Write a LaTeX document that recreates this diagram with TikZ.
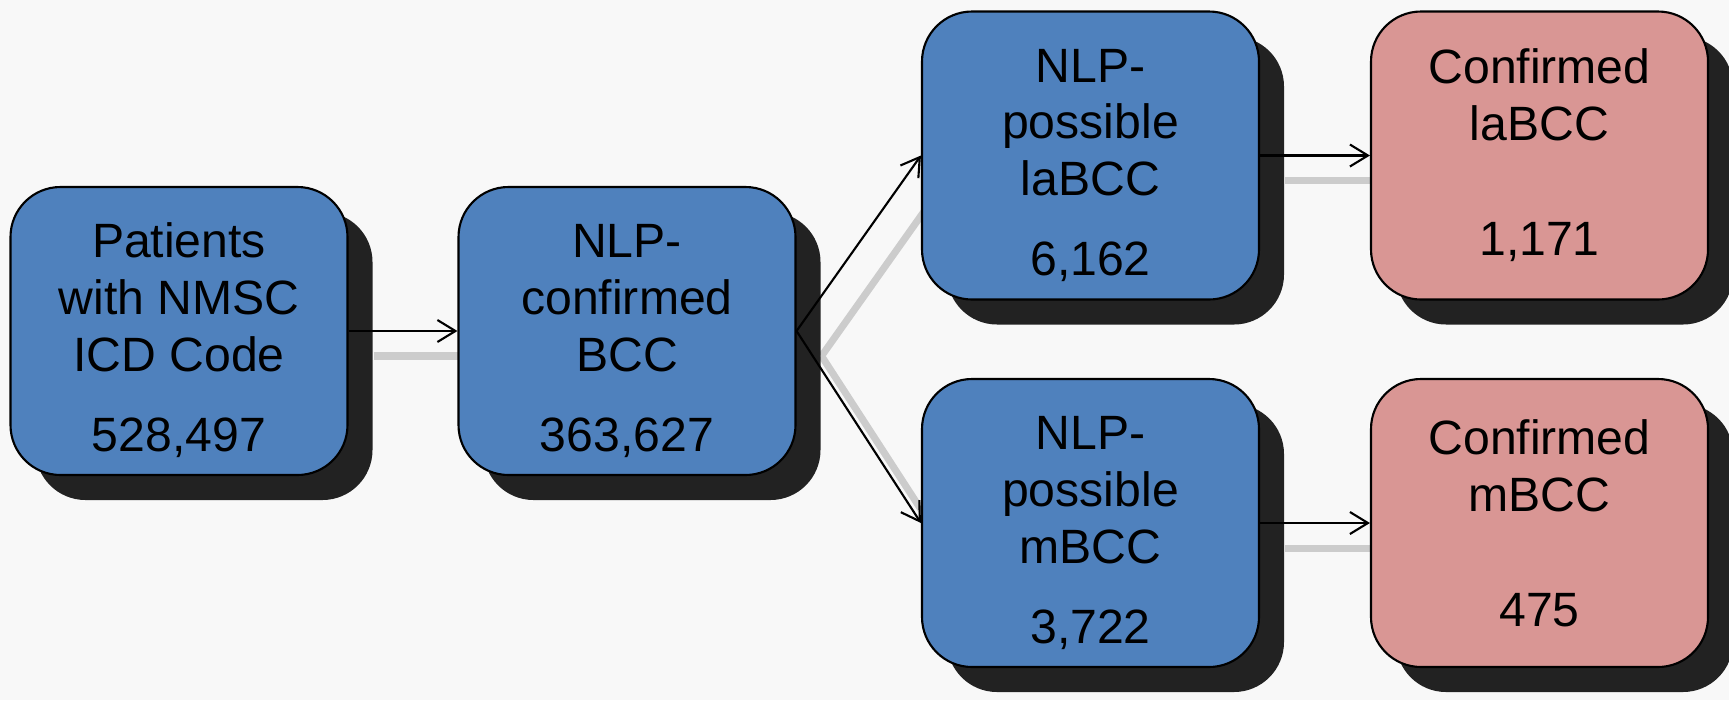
\documentclass[tikz,border=0pt]{standalone}
\usepackage{xcolor}
\usepackage{fontspec}
\setmainfont{Liberation Sans}
\usepackage{tikz}
\usetikzlibrary{arrows.meta,shadows}
\definecolor{boxblue}{HTML}{4F81BD}
\definecolor{boxpink}{HTML}{D99694}
\definecolor{bgcol}{HTML}{F8F8F8}
\definecolor{shadecol}{HTML}{222222}
\pgfdeclarelayer{back}
\pgfdeclarelayer{shade}
\pgfsetlayers{back,shade,main}
\newcommand{\topgap}{\rule{0pt}{0.53cm}}

\begin{document}
\begin{tikzpicture}[x=1cm,y=1cm,line join=round,
	stage/.style={draw=black,line width=0.6pt,rounded corners=0.5cm,minimum width=3.37cm,minimum height=2.88cm,inner sep=0pt,align=center,font=\fontsize{13.7}{16.2}\selectfont,drop shadow={shadow xshift=0.25cm,shadow yshift=-0.25cm,fill=shadecol,opacity=1}},
	bluebox/.style={stage,fill=boxblue},
	pinkbox/.style={stage,fill=boxpink},
	link/.style={-{Straight Barb[length=0.18cm,width=0.22cm]},line width=0.6pt},
	linkshade/.style={line width=2pt,color=black!20}]
	\useasboundingbox (0,0) rectangle (17.29,7);
	\begin{pgfonlayer}{back}
	\fill[bgcol] (0,0) rectangle (17.29,7);
	\end{pgfonlayer}
	\node[bluebox] (icd) at (1.79,3.69) {\topgap Patients\\with NMSC\\ICD Code\\[0.23cm]528,497};
	\node[bluebox] (nlpbcc) at (6.27,3.69) {\topgap NLP-\\confirmed\\BCC\\[0.23cm]363,627};
	\node[bluebox] (possla) at (10.905,5.445) {\topgap NLP-\\possible\\laBCC\\[0.23cm]6,162};
	\node[bluebox] (possm) at (10.905,1.77) {\topgap NLP-\\possible\\mBCC\\[0.23cm]3,722};
	\node[pinkbox] (confla) at (15.395,5.445) {Confirmed\\laBCC\\[0.58cm]1,171};
	\node[pinkbox] (confm) at (15.395,1.77) {Confirmed\\mBCC\\[0.58cm]475};
	\begin{pgfonlayer}{shade}
	\draw[linkshade] ([shift={(0.25,-0.25)}]icd.east) -- ([shift={(0.25,-0.25)}]nlpbcc.west);
	\draw[linkshade] ([shift={(0.25,-0.25)}]nlpbcc.east) -- ([shift={(0.25,-0.25)}]possla.west);
	\draw[linkshade] ([shift={(0.25,-0.25)}]nlpbcc.east) -- ([shift={(0.25,-0.25)}]possm.west);
	\draw[linkshade] ([shift={(0.25,-0.25)}]possla.east) -- ([shift={(0.25,-0.25)}]confla.west);
	\draw[linkshade] ([shift={(0.25,-0.25)}]possm.east) -- ([shift={(0.25,-0.25)}]confm.west);
	\end{pgfonlayer}
	\draw[link] (icd.east) -- (nlpbcc.west);
	\draw[link] (nlpbcc.east) -- (possla.west);
	\draw[link] (nlpbcc.east) -- (possm.west);
	\draw[link] (possla.east) -- (confla.west);
	\draw[link] (possm.east) -- (confm.west);
\end{tikzpicture}
\end{document}
